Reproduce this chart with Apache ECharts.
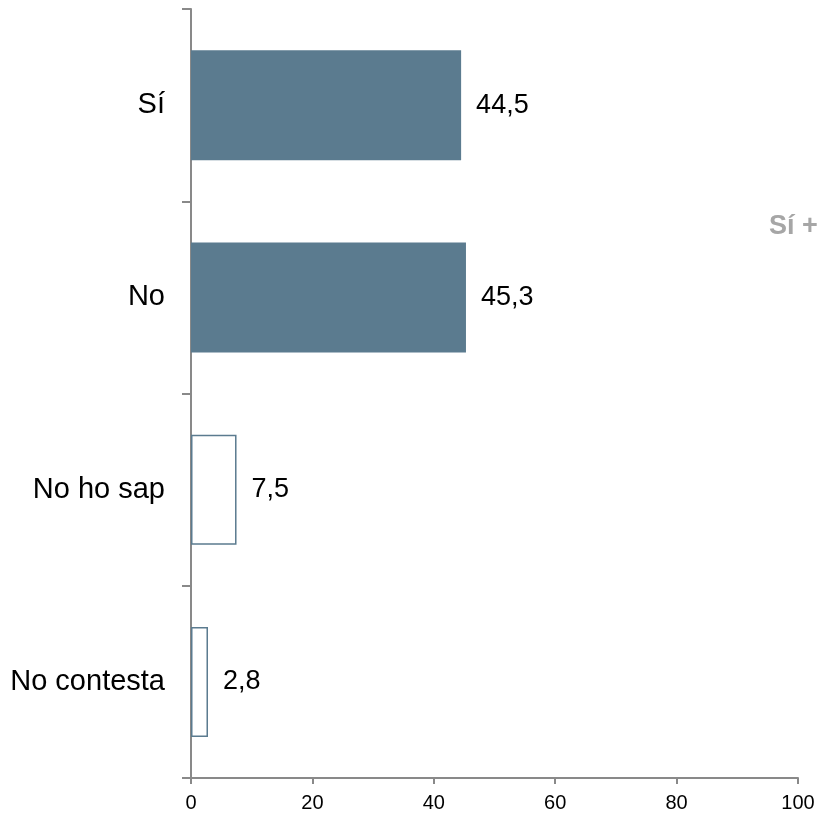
<!DOCTYPE html>
<html>
<head>
<meta charset="utf-8">
<script src="https://cdn.jsdelivr.net/npm/echarts@6/dist/echarts.min.js"></script>
<style>html,body{margin:0;padding:0;background:#fff;}#c{width:818px;height:815px;}</style>
</head>
<body>
<div id="c"></div>
<script>
var categories = ['Sí', 'No', 'No ho sap', 'No contesta'];
var values = [44.5, 45.3, 7.5, 2.8];
var filled = [true, true, false, false];
var xTicks = [0, 20, 40, 60, 80, 100];
var sideNote = 'Sí +';

var barColor = '#5b7b8f';
var chart = echarts.init(document.getElementById('c'));
var data = values.map(function (v, i) {
  return {
    value: v,
    itemStyle: filled[i]
      ? { color: barColor, borderWidth: 0 }
      : { color: '#ffffff', borderColor: barColor, borderWidth: 1.5 }
  };
});
chart.setOption({
  animation: false,
  grid: { left: 191, top: 9, right: 20, bottom: 37, containLabel: false },
  xAxis: {
    type: 'value', min: xTicks[0], max: xTicks[xTicks.length - 1], interval: 20,
    axisLine: { show: true, lineStyle: { color: '#898989', width: 2 } },
    axisTick: { show: true, length: 6, lineStyle: { color: '#898989', width: 2 } },
    axisLabel: { color: '#000', fontSize: 20, fontFamily: 'Liberation Sans, Arial', margin: 15 },
    splitLine: { show: false }
  },
  yAxis: {
    type: 'category', data: categories, inverse: true,
    axisLine: { show: true, lineStyle: { color: '#898989', width: 2 } },
    axisTick: { show: true, length: 9, lineStyle: { color: '#898989', width: 2 } },
    axisLabel: { color: '#000', fontSize: 29, fontFamily: 'Liberation Sans, Arial', margin: 26 }
  },
  series: [{
    type: 'bar', data: data, barWidth: 110,
    label: {
      show: true, position: 'right', distance: 15, color: '#000', fontSize: 27,
      fontFamily: 'Liberation Sans, Arial',
      formatter: function (p) { return p.value.toFixed(1).replace('.', ','); }
    }
  }],
  graphic: [{
    type: 'text', left: 769, top: 213,
    style: { text: sideNote, fill: '#a6a6a6', font: 'bold 27px "Liberation Sans", Arial' }
  }]
});
</script>
</body>
</html>
